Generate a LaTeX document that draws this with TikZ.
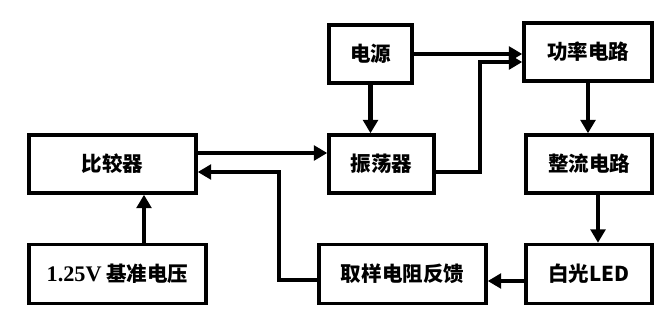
\documentclass[tikz,border=0pt]{standalone}
\usepackage{fontspec}
\setmainfont{Liberation Serif}
\newfontfamily\cjk{Noto Sans CJK SC}
\usetikzlibrary{arrows.meta}

\begin{document}
\begin{tikzpicture}[
  x=0.03cm,y=-0.03cm,
  blk/.style={draw,line width=3pt,inner sep=0pt,font=\fontsize{17.5}{20}\selectfont\cjk\bfseries},
  arr/.style={line width=4.2pt,-{Triangle[length=4mm,width=4.4mm]}},
  lnk/.style={line width=4.2pt}
]
  \useasboundingbox (0,0) rectangle (654,309);
  % blocks
  \node[blk,minimum width=2.49cm,minimum height=1.74cm] (src) at (370.5,54) {电源};
  \node[blk,minimum width=3.84cm,minimum height=1.74cm] (pow) at (588,52) {功率电路};
  \node[blk,minimum width=3.15cm,minimum height=1.74cm] (osc) at (381.5,164) {振荡器};
  \node[blk,minimum width=3.78cm,minimum height=1.74cm] (rect) at (589,164) {整流电路};
  \node[blk,minimum width=5.01cm,minimum height=1.74cm] (cmp) at (112.5,164) {比较器};
  \node[blk,minimum width=5.31cm,minimum height=1.77cm] (ref) at (117.5,274) {{\rmfamily\fontsize{19}{20}\selectfont 1.25V} 基准电压};
  \node[blk,minimum width=5.01cm,minimum height=1.77cm] (fb) at (402.5,274) {取样电阻反馈};
  \node[blk,minimum width=3.78cm,minimum height=1.77cm] (led) at (589,274) {白光LED};
  % bends
  \coordinate (b1) at (480,62);
  \coordinate (b2) at (279,172);
  % connectors
  \draw[arr] (src) -- (src -| pow.west);
  \draw[arr] (osc.east |- 0,172) -| (b1) -- (b1 -| pow.west);
  \draw[arr] (src.south) -- (src.south |- osc.north);
  \draw[arr] (pow.south) -- (pow.south |- rect.north);
  \draw[arr] (rect.south -| 598,0) -- (led.north -| 598,0);
  \draw[arr] (led.west |- 0,281) -- (fb.east |- 0,281);
  \draw[arr] (fb.west |- 0,280) -| (b2) -- (b2 -| cmp.east);
  \draw[arr] (cmp.east |- 0,153) -- (osc.west |- 0,153);
  \draw[arr] (ref.north -| 144,0) -- (cmp.south -| 144,0);
\end{tikzpicture}
\end{document}
